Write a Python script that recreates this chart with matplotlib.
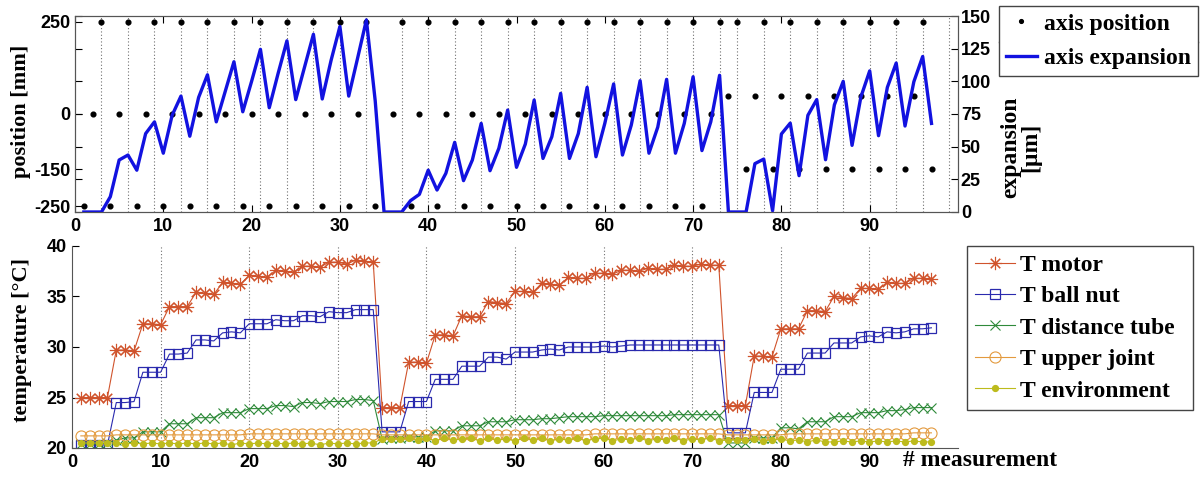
import numpy as np
import matplotlib
matplotlib.use("Agg")
import matplotlib.pyplot as plt
from matplotlib.lines import Line2D

plt.rcParams['axes.unicode_minus'] = False

# measurement index 1..97
meas = np.arange(1, 98)

# commanded axis position [mm]
position = [-250, 0, 250, -250, 0, 250, -250, 0, 250, -250,
            0, 250, -250, 0, 250, -250, 0, 250, -250, 0,
            250, -250, 0, 250, -250, 0, 250, -250, 0, 250,
            -250, 0, 250, -250, np.nan, 0, 250, -250, 0, 250,
            -250, 0, 250, -250, 0, 250, -250, 0, 250, -250,
            0, 250, -250, 0, 250, -250, 0, 250, -250, 0,
            250, -250, 0, 250, -250, 0, 250, -250, 0, 250,
            -250, 0, 250, 50, 250, -150, 50, 250, -150, 50,
            250, -150, 50, 250, -150, 50, 250, -150, 50, 250,
            -150, 50, 250, -150, 50, 250, -150]

# measured axis expansion [um]
expansion = [0, 0, 0, 11.7, 39.8, 43.6, 32, 60, 69, 45,
             74, 88.7, 58, 87.7, 105, 69, 92, 115, 76.7, 100,
             124.5, 79.8, 106, 131, 86, 111, 136, 86.5, 116, 142,
             88.7, 117.6, 147, 85, 0, 0, 0, 8.7, 13.5, 32,
             16.8, 29.6, 53.3, 24, 39.8, 67.8, 31.6, 48.7, 78, 34.2,
             52, 85.7, 41, 57.6, 90.8, 41, 60, 95.4, 42.3, 67.8,
             98, 43.6, 66.6, 100.5, 45, 65, 101.5, 45, 67.8, 103.5,
             47, 69, 104.6, 0, 0, 0, 37, 40.5, 1, 59.7,
             68, 27.8, 74, 86, 40, 82, 100, 51, 88, 108,
             58.4, 95.4, 114, 65.8, 99.7, 119, 67.8]

# measurements where the axis sat at +250 mm (dotted markers)
marker_lines = [3, 6, 9, 12, 15, 18, 21, 24, 27, 30, 33,
                37, 40, 43, 46, 49, 52, 55, 58, 61, 64, 67, 70, 73,
                75, 78, 81, 84, 87, 90, 93, 96, 99]

# temperatures [degC]
t_motor = [25.0, 25.0, 25.0, 25.0, 29.7, 29.7, 29.6, 32.3, 32.3, 32.2,
           34.0, 34.0, 34.0, 35.4, 35.3, 35.2, 36.4, 36.3, 36.2, 37.1,
           37.0, 36.9, 37.6, 37.5, 37.4, 38.0, 38.0, 37.9, 38.4, 38.4,
           38.2, 38.6, 38.5, 38.4, 24.0, 24.0, 24.0, 28.5, 28.5, 28.4,
           31.2, 31.2, 31.1, 33.1, 33.0, 33.0, 34.5, 34.4, 34.3, 35.5,
           35.5, 35.4, 36.3, 36.2, 36.1, 36.9, 36.8, 36.8, 37.3, 37.3,
           37.2, 37.6, 37.6, 37.5, 37.8, 37.7, 37.7, 38.1, 38.0, 38.0,
           38.2, 38.1, 38.1, 24.2, 24.2, 24.2, 29.1, 29.1, 29.0, 31.8,
           31.8, 31.8, 33.6, 33.6, 33.5, 35.0, 34.9, 34.8, 35.8, 35.8,
           35.7, 36.4, 36.3, 36.3, 36.8, 36.8, 36.7]
t_ballnut = [20.3, 20.3, 20.3, 20.3, 24.5, 24.5, 24.6, 27.5, 27.5, 27.5,
             29.3, 29.3, 29.4, 30.7, 30.7, 30.6, 31.4, 31.5, 31.4, 32.3,
             32.3, 32.3, 32.7, 32.6, 32.6, 33.1, 33.1, 33.0, 33.5, 33.4,
             33.4, 33.7, 33.7, 33.7, 21.6, 21.6, 21.6, 24.6, 24.6, 24.6,
             26.8, 26.8, 26.8, 28.1, 28.1, 28.1, 29.0, 29.0, 28.8, 29.5,
             29.5, 29.5, 29.7, 29.8, 29.7, 30.0, 30.0, 30.0, 30.0, 30.1,
             30.0, 30.1, 30.2, 30.2, 30.2, 30.2, 30.2, 30.2, 30.2, 30.2,
             30.2, 30.2, 30.2, 21.5, 21.5, 21.5, 25.5, 25.5, 25.5, 27.8,
             27.8, 27.8, 29.4, 29.4, 29.4, 30.4, 30.4, 30.4, 31.0, 31.1,
             31.0, 31.5, 31.4, 31.5, 31.8, 31.8, 31.9]
t_tube = [20.4, 20.4, 20.4, 20.5, 20.8, 21.0, 21.0, 21.6, 21.6, 21.6,
          22.4, 22.4, 22.4, 23.0, 23.0, 23.0, 23.5, 23.5, 23.5, 23.9,
          23.9, 23.9, 24.2, 24.2, 24.1, 24.5, 24.5, 24.4, 24.6, 24.6,
          24.6, 24.8, 24.8, 24.7, 20.9, 21.0, 21.0, 21.1, 21.1, 21.1,
          21.7, 21.7, 21.7, 22.2, 22.2, 22.2, 22.6, 22.6, 22.6, 22.8,
          22.8, 22.8, 22.9, 22.9, 23.0, 23.1, 23.1, 23.1, 23.1, 23.2,
          23.2, 23.2, 23.2, 23.2, 23.2, 23.2, 23.2, 23.3, 23.3, 23.3,
          23.3, 23.3, 23.3, 20.5, 20.5, 20.5, 21.0, 21.0, 21.0, 22.0,
          22.0, 21.9, 22.6, 22.6, 22.6, 23.1, 23.1, 23.1, 23.5, 23.5,
          23.5, 23.7, 23.7, 23.8, 24.0, 24.0, 24.0]
t_joint = [21.2, 21.2, 21.2, 21.2, 21.3, 21.3, 21.3, 21.3, 21.3, 21.3,
           21.3, 21.3, 21.3, 21.3, 21.3, 21.3, 21.3, 21.3, 21.3, 21.4,
           21.4, 21.4, 21.4, 21.4, 21.4, 21.4, 21.4, 21.4, 21.4, 21.4,
           21.4, 21.4, 21.4, 21.4, 21.3, 21.3, 21.3, 21.3, 21.3, 21.3,
           21.3, 21.3, 21.3, 21.3, 21.3, 21.3, 21.3, 21.3, 21.3, 21.3,
           21.3, 21.3, 21.3, 21.3, 21.3, 21.3, 21.3, 21.3, 21.4, 21.4,
           21.4, 21.4, 21.4, 21.4, 21.4, 21.4, 21.4, 21.4, 21.4, 21.4,
           21.4, 21.4, 21.4, 21.3, 21.3, 21.3, 21.3, 21.3, 21.3, 21.3,
           21.4, 21.4, 21.4, 21.4, 21.4, 21.4, 21.4, 21.4, 21.4, 21.4,
           21.4, 21.4, 21.4, 21.4, 21.5, 21.5, 21.5]
t_env = [20.5, 20.5, 20.5, 20.5, 20.5, 20.4, 20.5, 20.4, 20.5, 20.4,
         20.5, 20.4, 20.5, 20.4, 20.5, 20.4, 20.5, 20.3, 20.5, 20.4,
         20.5, 20.4, 20.5, 20.4, 20.5, 20.4, 20.5, 20.3, 20.5, 20.4,
         20.5, 20.4, 20.5, 20.5, 20.9, 20.9, 20.9, 21.0, 20.8, 21.0,
         20.7, 21.0, 20.8, 20.9, 21.0, 20.7, 21.0, 20.8, 20.9, 20.7,
         21.0, 20.8, 21.0, 20.7, 20.9, 20.8, 21.0, 20.7, 20.9, 21.0,
         20.7, 20.9, 20.8, 21.0, 20.7, 20.9, 20.8, 21.0, 20.7, 20.9,
         20.8, 21.0, 20.7, 20.8, 20.8, 20.8, 20.9, 20.7, 20.8, 20.9,
         20.7, 20.8, 20.6, 20.8, 20.6, 20.6, 20.7, 20.6, 20.7, 20.6,
         20.7, 20.6, 20.7, 20.6, 20.7, 20.6, 20.6]

x_ticks = [0, 10, 20, 30, 40, 50, 60, 70, 80, 90]

W, H = 1204, 478
fig = plt.figure(figsize=(W / 100, H / 100), dpi=100)

serif = {'family': 'Liberation Serif', 'weight': 'bold'}
tick_font = 'Liberation Sans'
leg_prop = {'family': 'Liberation Serif', 'weight': 'bold', 'size': 17}


def px_rect(l, t, r, b):
    return [l / W, 1 - b / H, (r - l) / W, (b - t) / H]


def style_ticks(a):
    for lab in a.get_xticklabels() + a.get_yticklabels():
        lab.set_fontfamily(tick_font)
        lab.set_fontweight('bold')
        lab.set_fontsize(13)


# ---------- top: position + expansion ----------
ax = fig.add_axes(px_rect(75, 16, 958, 212))
ax2 = ax.twinx()

for xv in marker_lines:
    ax.axvline(xv, color='#707070', ls=(0, (1, 2)), lw=0.8, zorder=0)

dots, = ax.plot(meas, position, ls='none', marker='o', ms=3.4,
                color='black', label='axis position')
line, = ax2.plot(meas, expansion, color='#1212E0', lw=2.4,
                 label='axis expansion')

ax.set_xlim(0, 100)
ax.set_ylim(-266, 266)
ax.set_yticks([-250, -150, 0, 250])
ax2.set_ylim(0, 150)
ax2.set_yticks([0, 25, 50, 75, 100, 125, 150])
ax.set_xticks(x_ticks)
ax.tick_params(axis='x', direction='in', top=True, length=5, pad=4)
ax.tick_params(axis='y', direction='in', length=5, pad=3)
ax2.tick_params(axis='y', direction='in', length=5, pad=2, left=True)
style_ticks(ax)
style_ticks(ax2)
for sp in list(ax.spines.values()) + list(ax2.spines.values()):
    sp.set_color('#555555')

fig.text(21 / W, 1 - 111 / H, 'position [mm]', rotation=90, ha='center',
         va='center', fontsize=16, **serif)
fig.text(1021 / W, 1 - 147 / H, 'expansion\n[µm]', rotation=90, ha='center',
         va='center', fontsize=17, multialignment='center',
         linespacing=0.95, **serif)

leg1 = fig.legend(handles=[dots, line], loc='upper left',
                  bbox_to_anchor=(999 / W, 1 - 6 / H - 0.01, 199 / W, 0.01),
                  mode='expand', prop=leg_prop,
                  handlelength=1.3, handletextpad=0.3, labelspacing=0.55,
                  borderpad=0.3, fancybox=False, framealpha=1,
                  edgecolor='#444444', markerscale=0.8, borderaxespad=0)
leg1.get_frame().set_linewidth(1.0)
fig.add_artist(Line2D([999 / W, 1198 / W], [1 - 42 / H, 1 - 42 / H],
                      color='#444444', lw=1.0))

# ---------- bottom: temperatures ----------
bx = fig.add_axes(px_rect(72, 246, 958, 448))
for xv in x_ticks[1:]:
    bx.axvline(xv, color='#707070', ls=(0, (1, 2)), lw=0.8, zorder=0)

lw = 0.8
h1, = bx.plot(meas, t_motor, color='#D0532C', lw=lw, marker=(8, 2, 0),
              ms=9.5, mew=0.8, label='T motor')
h2, = bx.plot(meas, t_ballnut, color='#2A2AAE', lw=lw, marker='s', ms=7.5,
              mfc='none', mew=0.9, label='T ball nut')
h3, = bx.plot(meas, t_tube, color='#2F8A3A', lw=lw, marker='x', ms=7.5,
              mew=0.8, label='T distance tube')
h4, = bx.plot(meas, t_joint, color='#E39A3E', lw=lw, marker='o', ms=8,
              mfc='none', mew=0.8, label='T upper joint')
h5, = bx.plot(meas, t_env, color='#BDBB1C', lw=lw, marker='o', ms=4.2,
              label='T environment')

bx.set_xlim(0, 100)
bx.set_ylim(20, 40)
bx.set_xticks(x_ticks)
bx.set_yticks([20, 25, 30, 35, 40])
bx.spines['top'].set_visible(False)
bx.spines['right'].set_visible(False)
bx.spines['left'].set_color('#555555')
bx.spines['bottom'].set_color('#555555')
bx.tick_params(direction='in', length=5, pad=4)
style_ticks(bx)

fig.text(22 / W, 1 - 340 / H, 'temperature [°C]', rotation=90, ha='center',
         va='center', fontsize=16, **serif)
fig.text(980 / W, 1 - 461 / H, '# measurement', ha='center', va='center',
         fontsize=17, **serif)

leg2 = fig.legend(handles=[h1, h2, h3, h4, h5], loc='upper left',
                  bbox_to_anchor=(967 / W, 1 - 246 / H - 0.01, 226 / W, 0.01),
                  mode='expand', prop=leg_prop,
                  handlelength=1.7, handletextpad=0.2, labelspacing=0.42,
                  borderpad=0.35, fancybox=False, framealpha=1,
                  edgecolor='#444444', borderaxespad=0)
leg2.get_frame().set_linewidth(1.0)

fig.savefig('out.png', dpi=100)
